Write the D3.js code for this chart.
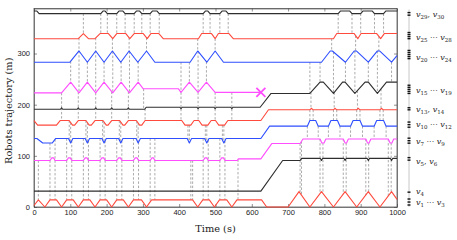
<!DOCTYPE html>
<html>
<head>
<meta charset="utf-8">
<script src="https://cdn.jsdelivr.net/npm/d3@7"></script>
<style>
    body { margin: 0; background: #fff; }
    svg { display: block; }
    .tick text { font-family: "Liberation Sans", Arial, sans-serif; font-size: 7.5px; fill: #222; }
    .axis path, .axis line { stroke: #444; stroke-width: 0.6; }
    .axis-label { font-family: "DejaVu Serif", serif; font-size: 9.8px; fill: #222; }
    .robot-label { font-family: "DejaVu Serif", serif; font-size: 8px; fill: #222; }
</style>
</head>
<body>
<svg id="chart" width="457" height="240"></svg>
<script>
// axis ticks
var timeTicks = [0, 100, 200, 300, 400, 500, 600, 700, 800, 900, 1000];
var posTicks = [0, 100, 200, 300];

// trajectories, [time (s), position (m)]
var blackTop = [[0,383],[8,383],[14,378],[184,378],[190,383],[196,383],[202,378],[228,378],[234,383],[245,383],[251,378],[276,378],[282,383],[291,383],[297,378],[320,378],[326,383],[339,383],[345,378],[466,378],[472,383],[479,383],[485,378],[512,378],[518,383],[529,383],[535,378],[838,378],[844,383],[870,383],[876,378],[900,378],[906,383],[932,383],[938,378],[963,378],[969,383],[1000,383]];
var redUpper = [[0,329],[122,329],[136,339],[150,329],[168,329],[182,339],[205,339],[217,329],[228,339],[253,339],[264,329],[276,339],[301,339],[312,329],[322,339],[344,339],[356,329],[453,329],[462,339],[489,339],[499,329],[508,339],[537,339],[549,329],[825,329],[834,339],[882,339],[892,329],[901,339],[944,339],[955,329],[965,339],[1000,339]];
var blueUpper = [[0,283],[99,283],[124,305],[147,283],[170,305],[193,283],[216,305],[239,283],[262,305],[286,283],[310,305],[333,283],[430,283],[451,305],[476,283],[499,305],[522,283],[792,283],[816,305],[822,305],[858,283],[882,305],[888,305],[921,283],[946,305],[952,305],[985,283],[1000,296]];
var magentaUpper = [[0,223],[76,223],[101,244],[124,223],[147,244],[170,223],[193,244],[217,223],[240,244],[263,223],[287,244],[301,231],[398,231],[405,224],[428,244],[452,224],[475,244],[499,224],[625,224]];
var blackMid = [[0,191],[73,191],[76,194],[79,191],[119,191],[122,194],[125,191],[167,191],[170,194],[173,191],[211,191],[214,194],[217,191],[257,191],[260,194],[263,191],[305,191],[309,195],[402,195],[405,192],[408,195],[449,195],[452,192],[455,195],[496,195],[499,192],[502,195],[542,195],[545,192],[548,195],[623,195],[653,222],[760,222],[788,244],[797,244],[825,222],[850,244],[857,244],[884,222],[912,244],[921,244],[946,222],[971,244],[1000,244]];
var redMid = [[0,169],[10,160],[62,160],[72,169],[97,169],[106,160],[112,160],[122,169],[143,169],[152,160],[158,160],[168,169],[190,169],[199,160],[204,160],[214,169],[236,169],[245,160],[250,160],[260,169],[282,169],[291,160],[297,160],[306,169],[407,169],[416,160],[432,160],[441,169],[454,169],[463,160],[479,160],[488,169],[500,169],[509,160],[525,160],[534,169],[625,169],[646,190],[760,190],[764,193],[769,190],[825,190],[829,193],[834,190],[889,190],[893,193],[898,190],[953,190],[957,193],[962,190],[1000,190]];
var blueMid = [[0,134],[8,134],[24,125],[50,125],[60,134],[95,134],[101,125],[107,134],[141,134],[147,125],[153,134],[187,134],[193,125],[199,134],[233,134],[239,125],[245,134],[281,134],[287,125],[293,134],[422,134],[428,125],[434,134],[470,134],[476,125],[482,134],[517,134],[523,125],[529,134],[625,134],[649,158],[753,158],[760,169],[776,169],[783,158],[811,158],[818,169],[836,169],[843,158],[872,158],[879,169],[898,169],[905,158],[937,158],[944,169],[963,169],[970,158],[1000,158]];
var magentaLow = [[0,91],[44,91],[49,96],[54,96],[58,91],[90,91],[95,96],[100,96],[104,91],[136,91],[141,96],[146,96],[150,91],[182,91],[187,96],[192,96],[196,91],[228,91],[233,96],[238,96],[242,91],[274,91],[279,96],[284,96],[288,91],[320,91],[325,96],[329,96],[333,91],[466,91],[471,96],[476,96],[480,91],[512,91],[517,96],[522,96],[526,91],[560,91],[563,94],[625,94],[655,124],[733,124],[741,133],[788,133],[793,125],[799,125],[804,133],[852,133],[857,125],[861,125],[866,133],[914,133],[919,125],[923,125],[928,133],[976,133],[981,125],[986,125],[991,133],[1000,133]];
var blackLow = [[0,31],[625,31],[685,91],[733,91],[737,95],[789,95],[792,91],[795,95],[854,95],[857,91],[860,95],[918,95],[921,91],[924,95],[982,95],[985,91],[988,95],[1000,95]];
var redBottom = [[0,3],[12,14],[30,0],[44,14],[62,14],[76,0],[90,14],[108,14],[122,0],[136,14],[154,14],[168,0],[182,14],[200,14],[214,0],[228,14],[246,14],[260,0],[274,14],[296,14],[310,0],[324,14],[437,14],[451,0],[465,14],[483,14],[497,0],[511,14],[531,14],[545,0],[559,14],[627,14],[641,0],[700,0],[730,30],[760,0],[792,30],[825,0],[857,30],[889,0],[921,30],[953,0],[985,30],[1000,15]];

// dashed connection times between neighbouring trajectories
var linkTopRed = [136,184,202,228,251,276,297,320,345,466,485,512,535,838,876,900,938,963];
var linkRedBlue = [124,170,216,262,310,451,499,820,886,950];
var linkBlueMag = [101,124,147,170,193,217,240,263,287,405,428,452,475];
var linkBlueBlack = [760,788,825,858,884,921,946,985];
var linkMagBlack = [76,122,170,214,260,302,405,452,499,545];
var linkBlackRed = [76,122,170,214,260,306,405,452,499,545,763,827,891,956];
var linkRedBlueMid = [97,101,143,147,189,193,235,239,283,287,424,428,472,476,519,523,760,769,825,834,889,898,953,962];
var linkBlueMagLow = [44,58,90,104,136,150,182,196,228,242,274,288,320,333,466,480,512,526,753,783,811,843,872,905,937,970];
var linkMagRedBottom = [12,44,58,90,104,136,150,182,196,228,242,274,288,320,333,432,437,466,480,512,526,562,733,737,788,796,852,860,914,922,976,984];

// robot positions on the right (v1 ... v30) and group labels
var robotPos = [3.9,9.7,15.6,29,91.6,96.5,124.8,129.6,134.5,156,161,166,190,194,222,226,230,234,238,290,294,298,302,306,329,333,337,341,375,380];
var groupFirst = [29, 25, 20, 15, 13, 10, 7, 5, 4, 1];
var groupLast = [30, 28, 24, 19, 14, 12, 9, 6, null, 3];
var groupSep = [",", "cdots", "cdots", "cdots", ",", "cdots", "cdots", ",", null, "cdots"];
var groupPos = [376, 331, 292, 226, 189, 160, 127, 88, 29, 8];

var failPoint = [625, 224];

window.addEventListener("load", function () {
    drawChart();
});

function interp(traj, t) {
    for (var i = 1; i < traj.length; i++) {
        if (t <= traj[i][0]) {
            var a = traj[i - 1], b = traj[i];
            if (b[0] === a[0]) return b[1];
            return a[1] + (b[1] - a[1]) * (t - a[0]) / (b[0] - a[0]);
        }
    }
    return traj[traj.length - 1][1];
}

function drawChart() {
    var svg = d3.select("#chart"),
        margin = { top: 8.5, right: 60, bottom: 33, left: 34 },
        width = +svg.attr("width") - margin.left - margin.right,
        height = +svg.attr("height") - margin.top - margin.bottom;

    var x = d3.scaleLinear().domain([0, 1000]).range([0, width]);
    var y = d3.scaleLinear().domain([0, 388]).range([height, 0]);

    var g = svg.append("g")
        .attr("transform", "translate(" + margin.left + "," + margin.top + ")");

    var black = "#2e2e2e", red = "#ff4a3d", blue = "#2f4fff", magenta = "#ff4dff";

    var lines = [
        { data: blackTop, color: black },
        { data: redUpper, color: red },
        { data: blueUpper, color: blue },
        { data: magentaUpper, color: magenta },
        { data: blackMid, color: black },
        { data: redMid, color: red },
        { data: blueMid, color: blue },
        { data: magentaLow, color: magenta },
        { data: blackLow, color: black },
        { data: redBottom, color: red }
    ];

    var links = [
        [linkTopRed, blackTop, redUpper],
        [linkRedBlue, redUpper, blueUpper],
        [linkBlueMag, blueUpper, magentaUpper],
        [linkBlueBlack, blueUpper, blackMid],
        [linkMagBlack, magentaUpper, blackMid],
        [linkBlackRed, blackMid, redMid],
        [linkRedBlueMid, redMid, blueMid],
        [linkBlueMagLow, blueMid, magentaLow],
        [linkMagRedBottom, magentaLow, redBottom]
    ];

    // dashed connectors
    var gLinks = g.append("g");
    links.forEach(function (l) {
        l[0].forEach(function (t) {
            gLinks.append("line")
                .attr("x1", x(t)).attr("x2", x(t))
                .attr("y1", y(interp(l[1], t)))
                .attr("y2", y(interp(l[2], t)))
                .attr("stroke", "#707070")
                .attr("stroke-width", 0.6)
                .attr("stroke-dasharray", "2.4,1.8");
        });
    });

    // axes (ticks inside the box)
    g.append("g")
        .attr("class", "axis")
        .attr("transform", "translate(0," + height + ")")
        .call(d3.axisBottom(x).tickValues(timeTicks).tickFormat(d3.format("d"))
            .tickSizeInner(-3).tickSizeOuter(0).tickPadding(3));
    g.append("g")
        .attr("class", "axis")
        .call(d3.axisTop(x).tickValues(timeTicks).tickSizeInner(-3).tickSizeOuter(0).tickFormat(""));
    g.append("g")
        .attr("class", "axis")
        .call(d3.axisLeft(y).tickValues(posTicks).tickSizeInner(-3).tickSizeOuter(0).tickPadding(4));
    g.append("g")
        .attr("class", "axis")
        .attr("transform", "translate(" + width + ",0)")
        .call(d3.axisRight(y).tickValues(posTicks).tickSizeInner(-3).tickSizeOuter(0).tickFormat(""));

    g.append("rect")
        .attr("width", width).attr("height", height)
        .attr("fill", "none").attr("stroke", "#444").attr("stroke-width", 0.7);

    // trajectories
    var line = d3.line()
        .x(function (d) { return x(d[0]); })
        .y(function (d) { return y(d[1]); });

    lines.forEach(function (l) {
        g.append("path")
            .datum(l.data)
            .attr("d", line)
            .attr("fill", "none")
            .attr("stroke", l.color)
            .attr("stroke-width", 1.1)
            .attr("stroke-linejoin", "round");
    });

    // failed robot
    g.append("path")
        .attr("d", d3.symbol().type(d3.symbolX).size(55)())
        .attr("transform", "translate(" + x(failPoint[0]) + "," + y(failPoint[1]) + ")")
        .attr("stroke", magenta)
        .attr("stroke-width", 1.8)
        .attr("fill", "none");

    // axis labels
    svg.append("text")
        .attr("class", "axis-label")
        .attr("x", margin.left + width / 2)
        .attr("y", 232)
        .attr("text-anchor", "middle")
        .text("Time (s)");

    svg.append("text")
        .attr("class", "axis-label")
        .attr("transform", "translate(12," + (margin.top + height / 2 + 3) + ") rotate(-90)")
        .attr("text-anchor", "middle")
        .text("Robots trajectory (m)");

    // robot positions on the right
    var xr = width + 12;
    g.append("line")
        .attr("x1", xr).attr("x2", xr)
        .attr("y1", 1).attr("y2", height)
        .attr("stroke", "#c8c8c8").attr("stroke-width", 1);

    g.selectAll(".robot")
        .data(robotPos)
        .enter().append("rect")
        .attr("class", "robot")
        .attr("x", xr - 1.5)
        .attr("y", function (d) { return y(d) - 0.7; })
        .attr("width", 3)
        .attr("height", 1.4)
        .attr("fill", "#111");

    groupPos.forEach(function (p, i) {
        var t = g.append("text")
            .attr("class", "robot-label")
            .attr("x", xr + 7)
            .attr("y", y(p) + 2);
        t.append("tspan").style("font-style", "italic").text("v");
        t.append("tspan").attr("dy", 2).style("font-size", "5.5px").text(groupFirst[i]);
        if (groupLast[i] != null) {
            t.append("tspan").attr("dy", -2).text(groupSep[i] === "," ? ", " : " \u00b7\u00b7\u00b7 ");
            t.append("tspan").style("font-style", "italic").text("v");
            t.append("tspan").attr("dy", 2).style("font-size", "5.5px").text(groupLast[i]);
        }
    });
}
</script>
</body>
</html>
